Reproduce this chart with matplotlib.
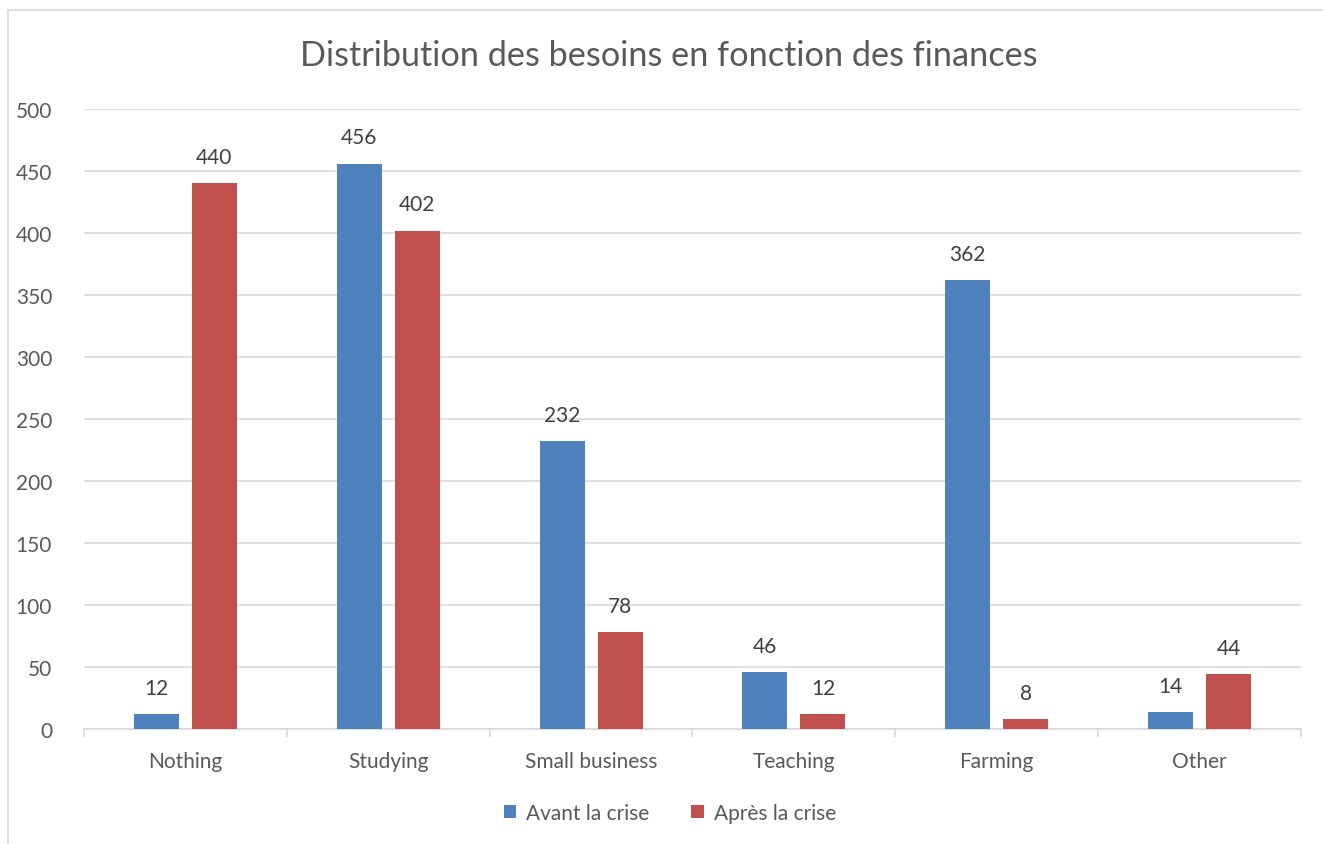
import matplotlib.pyplot as plt
import numpy as np
from matplotlib.patches import Rectangle

categories = ["Nothing", "Studying", "Small business", "Teaching", "Farming", "Other"]
avant = [12, 456, 232, 46, 362, 14]
apres = [440, 402, 78, 12, 8, 44]
yticks = [0, 50, 100, 150, 200, 250, 300, 350, 400, 450, 500]

plt.rcParams['font.family'] = ['Lato', 'DejaVu Sans']
txt = '#595959'
blue = '#4F81BD'
red = '#C0504D'

fig = plt.figure(figsize=(13.23, 8.45), dpi=100)
fig.patches.append(Rectangle((8 / 1323, -0.1), 1.2, 1 - 11 / 845 + 0.1, transform=fig.transFigure,
                             fill=False, edgecolor='#d9d9d9', linewidth=1.2))
ax = fig.add_axes([84 / 1323, 1 - 730 / 845, (1301 - 84) / 1323, (730 - 110) / 845])

x = np.arange(len(categories))
w = 0.222
off = 0.143
b1 = ax.bar(x - off, avant, w, color=blue, label='Avant la crise', zorder=3)
b2 = ax.bar(x + off, apres, w, color=red, label='Après la crise', zorder=3)
for bars, vals in ((b1, avant), (b2, apres)):
    for r, v in zip(bars, vals):
        ax.text(r.get_x() + r.get_width() / 2, v + 13, str(v), ha='center', va='bottom',
                fontsize=15, color='#404040')

ax.set_xlim(-0.5, len(categories) - 0.5)
ax.set_ylim(0, 500)
ax.set_yticks(yticks)
ax.yaxis.grid(True, color='#d9d9d9', linewidth=1.2, zorder=0)
ax.set_xticks(x)
ax.set_xticklabels(categories)
ax.set_xticks(np.arange(-0.5, len(categories)), minor=True)
ax.tick_params(axis='x', which='major', length=0, pad=16, labelsize=15, labelcolor=txt)
ax.tick_params(axis='x', which='minor', length=6, color='#d9d9d9', width=1.2)
ax.tick_params(axis='y', length=0, pad=23, labelsize=15, labelcolor=txt)
for s in ['top', 'right', 'left']:
    ax.spines[s].set_visible(False)
ax.spines['bottom'].set_color('#d9d9d9')
ax.spines['bottom'].set_linewidth(1.2)

fig.text(669 / 1323, 1 - 56 / 845, 'Distribution des besoins en fonction des finances', ha='center',
         va='center', fontsize=24.7, color=txt)
fig.legend(handles=[b1, b2], loc='center', bbox_to_anchor=(670 / 1323, 1 - 814 / 845), ncol=2,
           frameon=False, fontsize=15, labelcolor=txt, handlelength=0.6, handleheight=0.6,
           columnspacing=2.0, handletextpad=0.5)

fig.savefig('out.png', dpi=100)
